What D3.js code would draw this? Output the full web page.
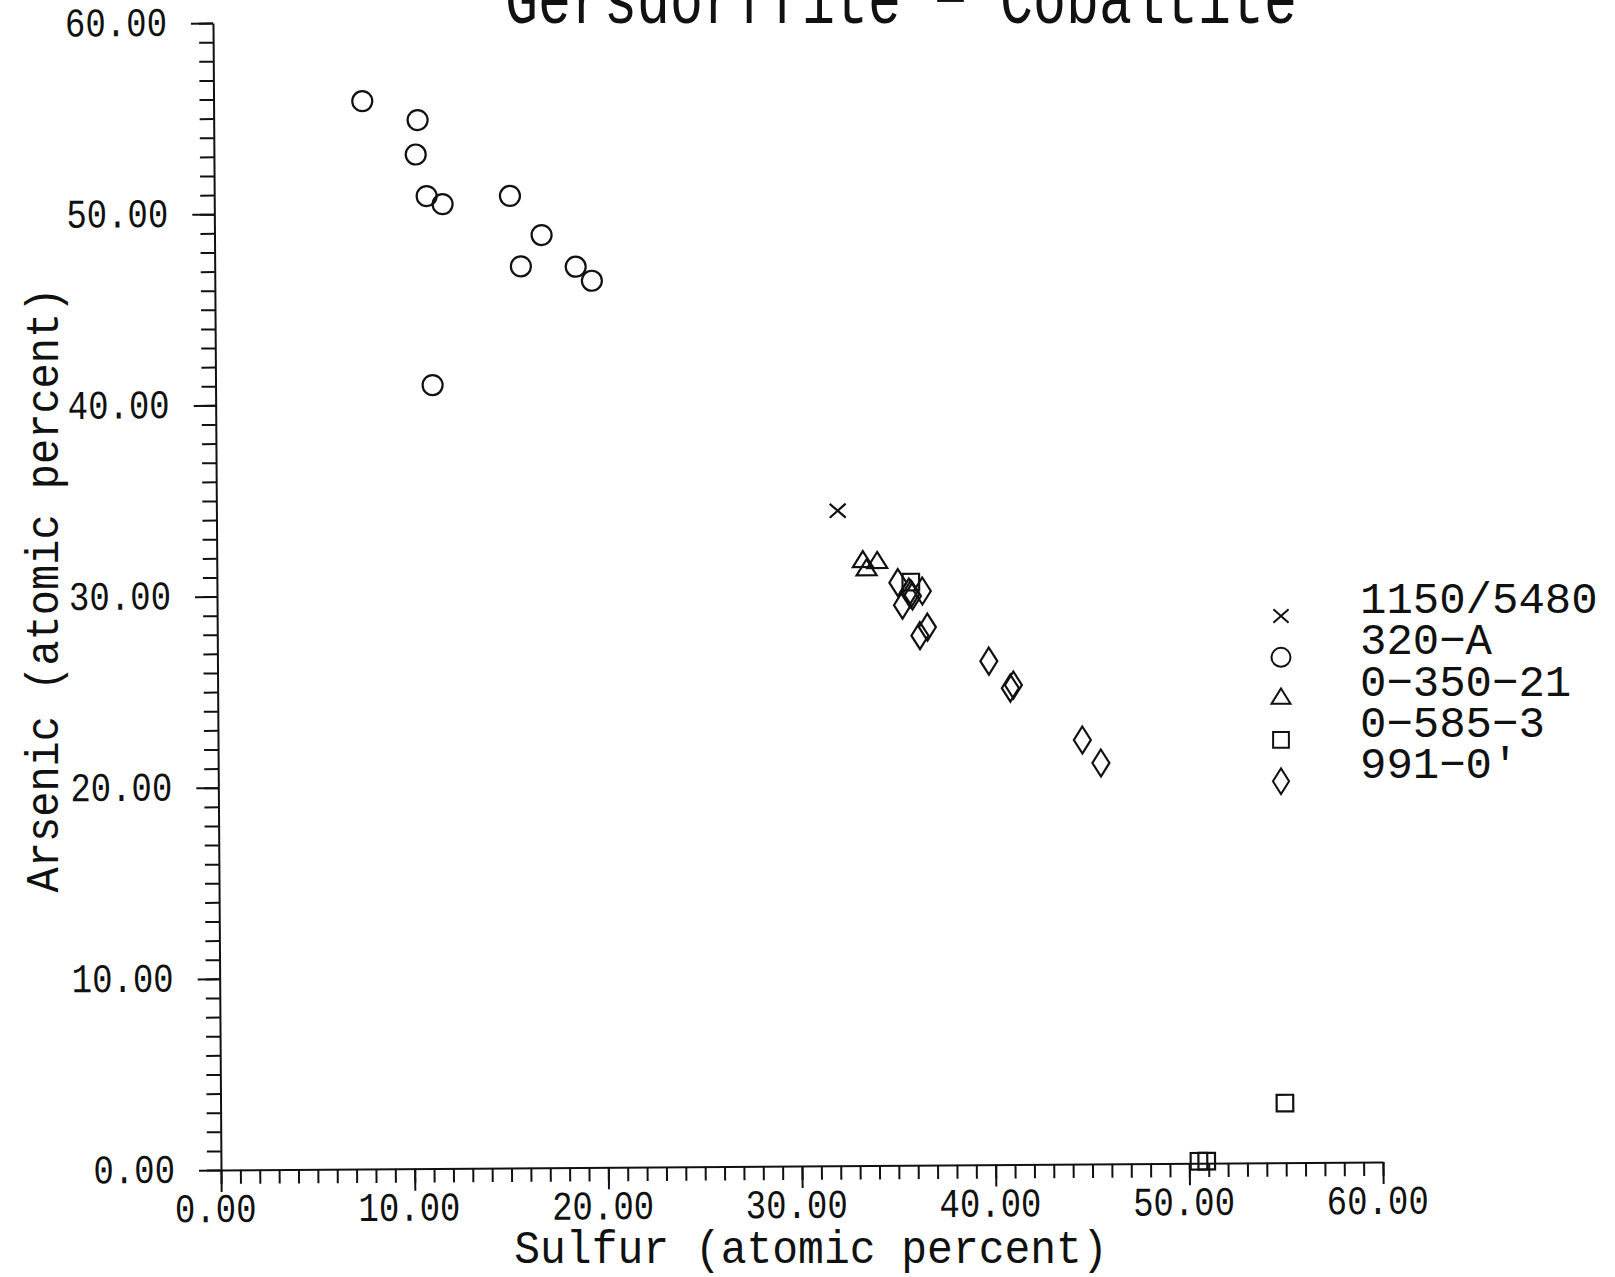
<!DOCTYPE html>
<html>
<head>
<meta charset="utf-8">
<script src="https://cdn.jsdelivr.net/npm/d3@7"></script>
<style>
  body { margin: 0; background: #fff; }
  svg { display: block; }
  text { font-family: "Liberation Mono", monospace; fill: #111; }
</style>
</head>
<body>
<div id="chart"></div>
<script>
// series names (legend order)
const seriesNames = ["1150/5480", "320\u2212A", "0\u2212350\u221221", "0\u2212585\u22123", "991\u22120\u2032"];
const seriesShapes = ["cross", "circle", "triangle", "square", "diamond"];

// sulfur (x) / arsenic (y), atomic percent
const crossS = [32.08];
const crossAs = [34.26];

const circleS = [7.68, 10.53, 10.42, 10.97, 11.79, 15.27, 16.89, 15.81, 18.64, 19.47, 11.21];
const circleAs = [55.86, 54.85, 53.05, 50.87, 50.44, 50.85, 48.79, 47.16, 47.12, 46.38, 40.98];

const triS = [33.36, 34.10, 33.55];
const triAs = [31.58, 31.53, 31.15];

const sqS = [35.83, 50.5, 50.9, 54.96];
const sqAs = [30.50, 0.1, 0.1, 3.11];

const diaS = [35.16, 35.73, 35.83, 35.91, 36.42, 35.39, 36.28, 36.67, 39.83, 40.93, 41.09, 44.63, 45.58];
const diaAs = [30.48, 29.98, 29.88, 29.77, 30.03, 29.30, 27.70, 28.14, 26.34, 24.92, 25.08, 22.18, 20.97];

const majorTicks = [0, 10, 20, 30, 40, 50, 60];

const width = 1615, height = 1277;
const ink = "#111";

const svg = d3.select("#chart").append("svg")
  .attr("width", width)
  .attr("height", height);

const x = d3.scaleLinear().domain([0, 60]).range([221, 1383]);
const y = d3.scaleLinear().domain([0, 60]).range([1170, 23]);

// the scanned plot sits a little skewed
const plot = svg.append("g").attr("transform", `rotate(-0.4, ${x(0)}, ${y(0)})`);

// shape paths, centred on 0,0
function shapePath(type, k) {
  k = k || 1;
  if (type === "circle") {
    const r = 10 * k;
    return `M${r},0A${r},${r} 0 1,1 ${-r},0A${r},${r} 0 1,1 ${r},0Z`;
  }
  if (type === "cross") {
    const w = 8 * k, h = 7 * k;
    return `M${-w},${-h}L${w},${h}M${-w},${h}L${w},${-h}`;
  }
  if (type === "triangle") {
    const w = 10 * k;
    return `M0,${-10.7 * k}L${w},${5.3 * k}L${-w},${5.3 * k}Z`;
  }
  if (type === "square") {
    const s = 8.3 * k;
    return `M${-s},${-s}H${s}V${s}H${-s}Z`;
  }
  // diamond
  const w = 8.5 * k, h = 13.5 * k;
  return `M0,${-h}L${w},0L0,${h}L${-w},0Z`;
}

// axes
const xMajor = d3.axisBottom(x).tickValues(majorTicks).tickSize(22).tickSizeOuter(0)
  .tickFormat(d3.format(".2f"));
const xMinor = d3.axisBottom(x).tickValues(d3.range(0, 61, 1)).tickSize(14).tickFormat("");
const yMajor = d3.axisLeft(y).tickValues(majorTicks).tickSize(22).tickSizeOuter(0)
  .tickFormat(d3.format(".2f"));
const yMinor = d3.axisLeft(y).tickValues(d3.range(0, 61, 1)).tickSize(14).tickFormat("");

const gxMinor = plot.append("g").attr("transform", `translate(0,${y(0)})`).call(xMinor);
const gxMajor = plot.append("g").attr("transform", `translate(0,${y(0)})`).call(xMajor);
const gyMinor = plot.append("g").attr("transform", `translate(${x(0)},0)`).call(yMinor);
const gyMajor = plot.append("g").attr("transform", `translate(${x(0)},0)`).call(yMajor);

gxMinor.select(".domain").remove();
gyMinor.select(".domain").remove();

[gxMinor, gxMajor, gyMinor, gyMajor].forEach(g => {
  g.attr("color", ink).attr("font-family", null).attr("font-size", null);
  g.selectAll("line, path").attr("stroke-width", 2);
});

gxMajor.selectAll("text")
  .attr("y", null).attr("dy", null)
  .attr("transform", "translate(-6,52) scale(1,1.2)")
  .style("font-size", "34px");

gyMajor.selectAll("text")
  .attr("x", null).attr("dy", null)
  .attr("transform", "translate(-46,12) scale(1,1.2)")
  .style("font-size", "34px");

// points
const series = [
  { shape: "cross", s: crossS, a: crossAs },
  { shape: "circle", s: circleS, a: circleAs },
  { shape: "triangle", s: triS, a: triAs },
  { shape: "square", s: sqS, a: sqAs },
  { shape: "diamond", s: diaS, a: diaAs }
];

series.forEach(ser => {
  const pts = ser.s.map((v, i) => ({ s: v, a: ser.a[i] }));
  plot.append("g")
    .selectAll("path")
    .data(pts)
    .join("path")
    .attr("d", shapePath(ser.shape))
    .attr("transform", d => `translate(${x(d.s)},${y(d.a)})`)
    .attr("fill", "none")
    .attr("stroke", ink)
    .attr("stroke-width", 2.2);
});

// titles
svg.append("text")
  .attr("transform", "translate(505,23) scale(1,1.3)")
  .style("font-size", "55px")
  .text("Gersdorffite \u2212 Cobaltite");

svg.append("text")
  .attr("text-anchor", "middle")
  .attr("transform", "translate(811,1263) scale(1,1.08)")
  .style("font-size", "43px")
  .text("Sulfur (atomic percent)");

svg.append("text")
  .attr("text-anchor", "middle")
  .attr("transform", "translate(58,590) rotate(-90) scale(1,1.08)")
  .style("font-size", "42px")
  .text("Arsenic (atomic percent)");

// legend
const legend = svg.append("g").attr("transform", "translate(1281,613)");
const rows = legend.selectAll("g")
  .data(seriesNames)
  .join("g")
  .attr("transform", (d, i) => `translate(0,${i * 41.3})`);

rows.append("path")
  .attr("d", (d, i) => shapePath(seriesShapes[i], 0.95))
  .attr("transform", "translate(0,3)")
  .attr("fill", "none")
  .attr("stroke", ink)
  .attr("stroke-width", 2);

rows.append("text")
  .attr("x", 79)
  .style("font-size", "44px")
  .text(d => d);
</script>
</body>
</html>
